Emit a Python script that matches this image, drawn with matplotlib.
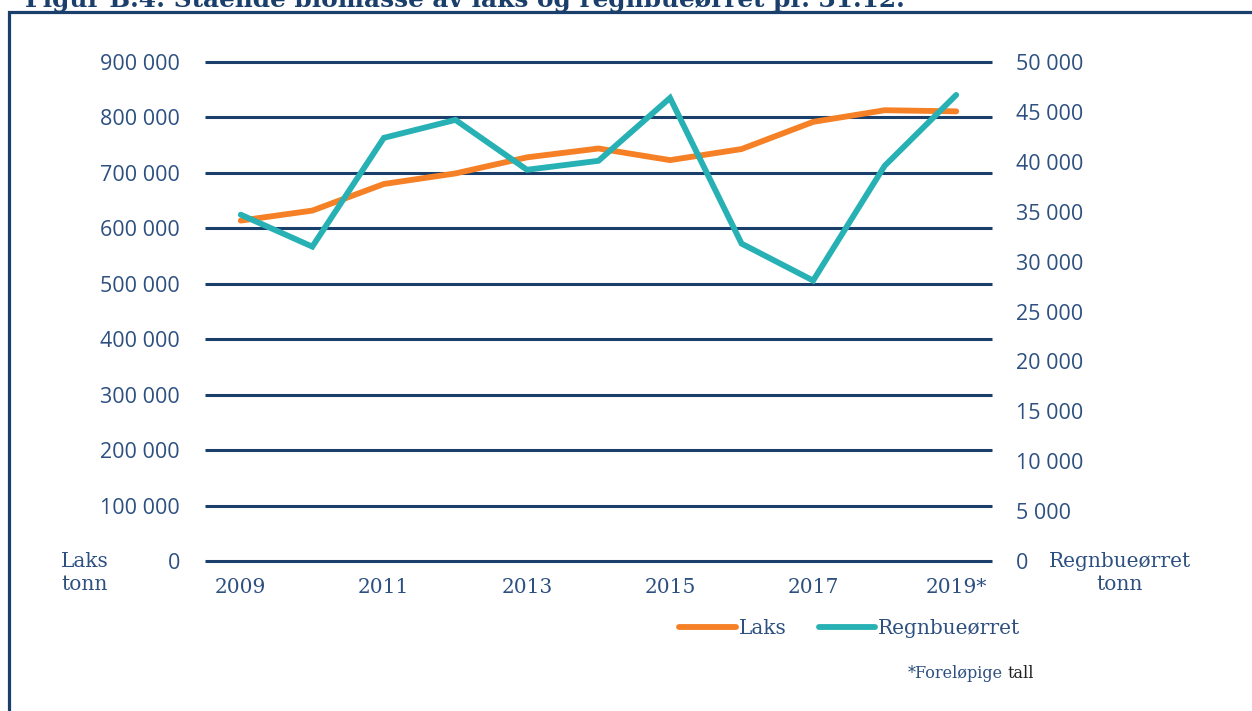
import matplotlib
matplotlib.use("Agg")
import matplotlib.pyplot as plt
from matplotlib.patches import Rectangle
from matplotlib.lines import Line2D
from matplotlib.ticker import FuncFormatter

years = ["2009", "2010", "2011", "2012", "2013", "2014", "2015", "2016", "2017", "2018", "2019*"]
laks = [614000, 632000, 680000, 699000, 728000, 744000, 723000, 743000, 792000, 813000, 811000]
regnbue = [34700, 31500, 42400, 44200, 39200, 40100, 46400, 31800, 28100, 39600, 46700]
left_ticks = [0, 100000, 200000, 300000, 400000, 500000, 600000, 700000, 800000, 900000]
right_ticks = [0, 5000, 10000, 15000, 20000, 25000, 30000, 35000, 40000, 45000, 50000]

NAVY = "#1b3f6b"
TEXT = "#2d5080"
ORANGE = "#f58025"
TEAL = "#27b1b5"
SERIF = "DejaVu Serif"
SANS = "Open Sans"

W, H = 1252, 711
fig = plt.figure(figsize=(W / 100, H / 100), dpi=100)

def fx(px):
    return px / W

def fy(py):
    return 1 - py / H

# frame
fig.patches.append(Rectangle((fx(9), fy(760)), fx(1300), fy(11.5) - fy(760),
                             transform=fig.transFigure, fill=False,
                             edgecolor=NAVY, linewidth=2.3, zorder=0))
fig.text(fx(25), fy(7), "Figur B.4: Stående biomasse av laks og regnbueørret pr. 31.12.",
         fontfamily=SERIF, fontweight="bold", fontsize=17.8, color=NAVY,
         ha="left", va="baseline")

ax = fig.add_axes([fx(205), fy(561), fx(992) - fx(205), fy(62) - fy(561)])
ax2 = ax.twinx()

x = list(range(len(years)))
ax.set_xlim(-0.5, len(years) - 0.5)
ax.set_ylim(0, 900000)
ax2.set_ylim(0, 50000)

for t in left_ticks:
    ax.axhline(t, color=NAVY, linewidth=2.2, zorder=1, solid_capstyle="butt", clip_on=False)

ax.plot(x, laks, color=ORANGE, linewidth=4.2, zorder=3, solid_capstyle="round", solid_joinstyle="miter")
ax2.plot(x, regnbue, color=TEAL, linewidth=4.2, zorder=3, solid_capstyle="round", solid_joinstyle="miter")

fmt = FuncFormatter(lambda v, p: f"{int(v):,}".replace(",", " "))
ax.set_yticks(left_ticks)
ax.yaxis.set_major_formatter(fmt)
ax2.set_yticks(right_ticks)
ax2.yaxis.set_major_formatter(fmt)
ax.tick_params(axis="y", length=0, pad=18, labelsize=15.5, labelcolor=TEXT)
ax2.tick_params(axis="y", length=0, pad=17, labelsize=15.5, labelcolor=TEXT)
for lab in ax.get_yticklabels() + ax2.get_yticklabels():
    lab.set_fontfamily(SANS)

ax.set_xticks(x)
ax.set_xticklabels([y if i % 2 == 0 else "" for i, y in enumerate(years)],
                   fontfamily=SERIF, fontsize=14.5, color=TEXT)
ax.tick_params(axis="x", length=0, pad=12)

for a in (ax, ax2):
    for s in a.spines.values():
        s.set_visible(False)
ax.patch.set_visible(False)

fig.text(fx(85), fy(573), "Laks\ntonn", fontfamily=SERIF, fontsize=14.5, color=TEXT,
         ha="center", va="center", linespacing=1.25)
fig.text(fx(1120), fy(573), "Regnbueørret\ntonn", fontfamily=SERIF, fontsize=14.5, color=TEXT,
         ha="center", va="center", linespacing=1.25)

handles = [Line2D([], [], color=ORANGE, linewidth=4.2, solid_capstyle="round"),
           Line2D([], [], color=TEAL, linewidth=4.2, solid_capstyle="round")]
leg = fig.legend(handles, ["Laks", "Regnbueørret"], loc="center",
                 bbox_to_anchor=(fx(850), fy(629)), ncol=2, frameon=False,
                 handlelength=2.8, handletextpad=0.15, columnspacing=1.6,
                 prop={"family": SERIF, "size": 14.5})
for t in leg.get_texts():
    t.set_color(TEXT)

t1 = fig.text(fx(908), fy(674), "*Foreløpige", fontfamily=SERIF, fontsize=11.5,
              color=TEXT, ha="left", va="center")
fig.canvas.draw()
bb = t1.get_window_extent(renderer=fig.canvas.get_renderer())
fig.text(fx(bb.x1 + 4), fy(674), "tall", fontfamily=SERIF, fontsize=11.5,
         color="#222222", ha="left", va="center")

fig.savefig("out.png", dpi=100)
